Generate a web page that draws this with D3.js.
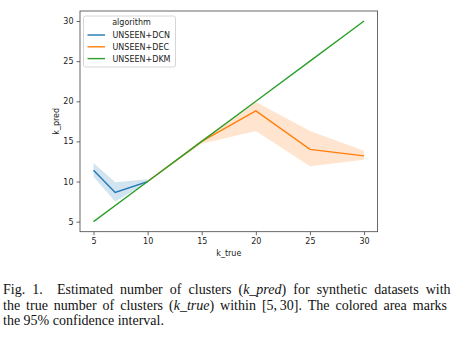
<!DOCTYPE html>
<html>
<head>
<meta charset="utf-8">
<script src="https://cdn.jsdelivr.net/npm/d3@7"></script>
<style>
  body { margin: 0; background: #fff; }
  svg { display: block; }
</style>
</head>
<body>
<svg id="chart" width="453" height="339"></svg>
<script>
'use strict'

// values
const algorithms = ['UNSEEN+DCN', 'UNSEEN+DEC', 'UNSEEN+DKM']
const colors = ['#1f77b4', '#ff7f0e', '#2ca02c']

const dcnK = [5, 7, 10]
const dcnMean = [11.4, 8.65, 10]
const dcnLow = [10.6, 7.5, 9.85]
const dcnHigh = [12.3, 9.9, 10.3]

const decK = [10, 15, 20, 25, 30]
const decMean = [10, 15, 18.8, 14, 13.2]
const decLow = [10, 14.7, 16.3, 11.9, 12.7]
const decHigh = [10, 15.2, 19.9, 16.3, 13.85]

const dkmK = [5, 10, 15, 20, 25, 30]
const dkmMean = [5, 10, 15, 20, 25, 30]

const xTicks = [5, 10, 15, 20, 25, 30]
const yTicks = [5, 10, 15, 20, 25, 30]

const captionLines = [
  [['Fig. 1.\u00a0 Estimated number of clusters (', 'n'], ['k_pred', 'i'], [') for synthetic datasets with', 'n']],
  [['the true number of clusters (', 'n'], ['k_true', 'i'], [') within [5,\u200930]. The colored area marks', 'n']],
  [['the 95% confidence interval.', 'n']]
]

function toRows (k, mean, low, high) {
  return k.map((d, i) => ({
    k: d,
    mean: mean[i],
    low: low ? low[i] : mean[i],
    high: high ? high[i] : mean[i]
  }))
}

const series = [
  toRows(dcnK, dcnMean, dcnLow, dcnHigh),
  toRows(decK, decMean, decLow, decHigh),
  toRows(dkmK, dkmMean)
]

const svg = d3.select('#chart')
const plot = { left: 80, right: 377.6, top: 11, bottom: 231.7 }

const x = d3.scaleLinear().domain([3.75, 31.25]).range([plot.left, plot.right])
const y = d3.scaleLinear().domain([3.75, 31.25]).range([plot.bottom, plot.top])

const font = 'DejaVu Sans, sans-serif'
const axisColor = '#444'

// bands then lines, in hue order
series.forEach((rows, i) => {
  if (i === 2) return
  const area = d3.area()
    .x(d => x(d.k))
    .y0(d => y(d.low))
    .y1(d => y(d.high))
  svg.append('path')
    .attr('d', area(rows))
    .attr('fill', colors[i])
    .attr('fill-opacity', 0.2)
})

const line = d3.line().x(d => x(d.k)).y(d => y(d.mean))
series.forEach((rows, i) => {
  svg.append('path')
    .attr('d', line(rows))
    .attr('fill', 'none')
    .attr('stroke', colors[i])
    .attr('stroke-width', 1.4)
})

// axes
const xAxis = svg.append('g')
  .attr('transform', `translate(0,${plot.bottom})`)
  .call(d3.axisBottom(x).tickValues(xTicks).tickSize(3.5).tickPadding(3))
const yAxis = svg.append('g')
  .attr('transform', `translate(${plot.left},0)`)
  .call(d3.axisLeft(y).tickValues(yTicks).tickSize(3.5).tickPadding(3))

;[xAxis, yAxis].forEach(g => {
  g.select('.domain').remove()
  g.selectAll('line').attr('stroke', axisColor).attr('stroke-width', 0.8)
  g.selectAll('text').attr('font-family', font).attr('font-size', 8).attr('fill', '#222')
})

svg.append('rect')
  .attr('x', plot.left)
  .attr('y', plot.top)
  .attr('width', plot.right - plot.left)
  .attr('height', plot.bottom - plot.top)
  .attr('fill', 'none')
  .attr('stroke', axisColor)
  .attr('stroke-width', 0.8)

svg.append('text')
  .attr('x', (plot.left + plot.right) / 2)
  .attr('y', 255.5)
  .attr('text-anchor', 'middle')
  .attr('font-family', font)
  .attr('font-size', 8)
  .attr('fill', '#222')
  .text('k_true')

svg.append('text')
  .attr('transform', `translate(59,${(plot.top + plot.bottom) / 2}) rotate(-90)`)
  .attr('text-anchor', 'middle')
  .attr('font-family', font)
  .attr('font-size', 8)
  .attr('fill', '#222')
  .text('k_pred')

// legend
const legend = svg.append('g').attr('transform', 'translate(83.5,16)')
legend.append('rect')
  .attr('width', 92)
  .attr('height', 51)
  .attr('rx', 2)
  .attr('fill', '#fff')
  .attr('fill-opacity', 0.8)
  .attr('stroke', '#ccc')
  .attr('stroke-width', 0.8)
legend.append('text')
  .attr('x', 48)
  .attr('y', 8.6)
  .attr('text-anchor', 'middle')
  .attr('font-family', font)
  .attr('font-size', 8)
  .attr('fill', '#222')
  .text('algorithm')
algorithms.forEach((name, i) => {
  const cy = 19 + i * 11.8
  legend.append('line')
    .attr('x1', 4).attr('x2', 21.5)
    .attr('y1', cy).attr('y2', cy)
    .attr('stroke', colors[i])
    .attr('stroke-width', 1.4)
  legend.append('text')
    .attr('x', 29)
    .attr('y', cy + 2.9)
    .attr('font-family', font)
    .attr('font-size', 8)
    .attr('fill', '#222')
    .text(name)
})

// caption, justified on the first two lines
const capLeft = 3
const capRight = 447
const baselines = [294.3, 309.7, 325]
captionLines.forEach((parts, i) => {
  const t = svg.append('text')
    .attr('x', capLeft)
    .attr('y', baselines[i])
    .attr('font-family', 'Liberation Serif, Times New Roman, serif')
    .attr('font-size', 14)
    .attr('fill', '#111')
    .attr('xml:space', 'preserve')
  parts.forEach(([txt, style]) => {
    t.append('tspan')
      .attr('font-style', style === 'i' ? 'italic' : null)
      .text(txt)
  })
  if (i < captionLines.length - 1) {
    const w = t.node().getComputedTextLength()
    const full = parts.map(p => p[0]).join('')
    const gaps = (full.match(/ /g) || []).length
    t.attr('word-spacing', (capRight - capLeft - w) / gaps)
  }
})
</script>
</body>
</html>
